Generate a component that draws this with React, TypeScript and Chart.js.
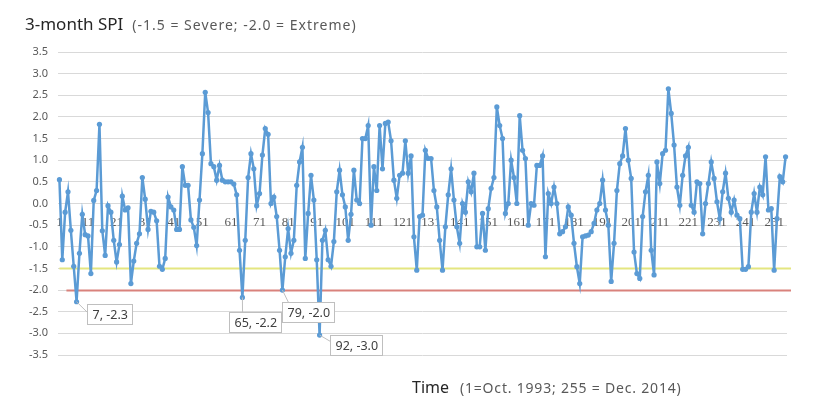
import React, { useEffect, useRef } from "react";
import { Chart, registerables } from "chart.js";

Chart.register(...registerables);

// 3-month SPI, months 1..255 (1 = Oct. 1993, 255 = Dec. 2014)
const spiPart1 = [
  0.55, -1.3, -0.2, 0.27, -0.62, -1.45, -2.27, -1.15, -0.25, -0.72,
  -0.75, -1.62, 0.07, 0.3, 1.83, -0.63, -1.2, -0.05, -0.2, -0.85,
  -1.35, -0.95, 0.17, -0.15, -0.1, -1.85, -1.33, -0.92, -0.7, 0.6,
  0.1, -0.6, -0.18, -0.2, -0.4, -1.45, -1.52, -1.27, 0.15, -0.08,
  -0.15, -0.6, -0.6, 0.85, 0.42, 0.42, -0.38, -0.55, -0.97, 0.08,
  1.15, 2.57, 2.1, 0.92, 0.85, 0.54, 0.88, 0.54, 0.5, 0.5,
  0.5, 0.45, 0.2, -1.08, -2.17,
];
const spiPart2 = [
  -0.85, 0.6, 1.15, 0.8, -0.05, 0.23, 1.12, 1.73, 1.6, 0.0,
  0.15, -0.3, -1.08, -2.0, -1.23, -0.58, -1.15, -0.85, 0.42, 0.96,
  1.3, -1.27, -0.23, 0.65, 0.08, -1.3, -3.04, -0.85, -0.62, -1.3,
  -1.45, -0.88, 0.27, 0.77, 0.2, -0.08, -0.85, -0.25, 0.77, 0.08,
  0.0, 1.5, 1.5, 1.8, -0.5, 0.85, 0.3, 1.8, 0.8, 1.85,
  1.88, 1.45, 0.54, 0.12, 0.65, 0.7, 1.45, 0.7, 1.1, -0.77,
  -1.54, -0.3, -0.27, 1.23, 1.04,
];
const spiPart3 = [
  1.04, 0.3, -0.08, -0.85, -1.54, -0.54, 0.2, 0.8, 0.08, -0.54,
  -0.92, 0.0, -0.2, 0.5, 0.27, 0.7, -1.0, -1.0, -0.23, -1.08,
  -0.12, 0.35, 0.6, 2.23, 1.8, 1.5, -0.23, 0.0, 1.0, 0.6,
  0.0, 2.03, 1.23, 1.04, -0.5, 0.0, -0.04, 0.88, 0.88, 1.1,
  -1.23, 0.23, 0.0, 0.38, 0.0, -0.7, -0.65, -0.54, -0.08, -0.27,
  -0.92, -1.46, -1.85, -0.77, -0.75, -0.73, -0.65, -0.46, -0.15, 0.0,
  0.54, -0.15, -0.5, -1.8, -0.92,
];
const spiPart4 = [
  0.3, 0.92, 1.1, 1.73, 1.0, 0.58, -1.12, -1.62, -1.73, -0.3,
  0.27, 0.65, -1.08, -1.65, 0.96, 0.46, 1.15, 1.23, 2.65, 2.08,
  1.35, 0.38, -0.04, 0.65, 1.1, 1.3, -0.04, -0.2, 0.5, 0.46,
  -0.7, 0.0, 0.46, 0.96, 0.58, 0.04, -0.35, 0.27, 0.7, 0.12,
  -0.2, 0.08, -0.27, -0.35, -1.52, -1.52, -1.46, -0.2, 0.23, -0.2,
  0.38, 0.2, 1.08, -0.15, -0.12, -1.54, -0.35, 0.62, 0.5, 1.08,
];
const spiValues = [...spiPart1, ...spiPart2, ...spiPart3, ...spiPart4];
const monthLabels = spiValues.map((_, i) => String(i + 1));

const yMin = -3.5;
const yMax = 3.5;
const yStep = 0.5;
const labelEvery = 10;

const severeLevel = -1.5;
const extremeLevel = -2.0;

const calloutMonths = [7, 65, 79, 92];

const titleMain = "3-month SPI";
const titleSub = "(-1.5 = Severe; -2.0 = Extreme)";
const xTitleMain = "Time";
const xTitleSub = "(1=Oct. 1993; 255 = Dec. 2014)";

// styling of callouts: offset of the box from its point, and where the leader meets the box
const calloutStyle = [
  { dx: 10, dy: 2, ax: 0, ay: 8 },
  { dx: -13, dy: 15, ax: 13, ay: 0 },
  { dx: 0, dy: 12, ax: 6, ay: 0 },
  { dx: 10, dy: 0, ax: 0, ay: 6 },
];

const decorPlugin = {
  id: "decor",
  beforeDatasetsDraw(chart: any) {
    const { ctx, chartArea, scales } = chart;
    const x = scales.x;
    const y = scales.y;
    const x0 = x.getPixelForValue(0);
    const drawLevel = (v: number, color: string, start: number) => {
      const py = Math.round(y.getPixelForValue(v)) + 0.5;
      ctx.save();
      ctx.strokeStyle = color;
      ctx.lineWidth = 2;
      ctx.beginPath();
      ctx.moveTo(start, py);
      ctx.lineTo(chartArea.right + 4, py);
      ctx.stroke();
      ctx.restore();
    };
    drawLevel(severeLevel, "#e4e680", x0);
    drawLevel(extremeLevel, "#d9827c", x0 + 7);
  },
  afterDatasetsDraw(chart: any) {
    const { ctx, scales } = chart;
    const x = scales.x;
    const y = scales.y;
    ctx.save();
    ctx.font = "12.5px 'Noto Sans'";
    ctx.textBaseline = "middle";
    calloutMonths.forEach((m, k) => {
      const v = spiValues[m - 1];
      const px = x.getPixelForValue(m - 1);
      const py = y.getPixelForValue(v);
      const st = calloutStyle[k];
      const text = `${m}, ${v.toFixed(1)}`;
      const w = Math.ceil(ctx.measureText(text).width) + 9;
      const h = 20;
      const bx = Math.round(px + st.dx) + 0.5;
      const by = Math.round(py + st.dy) + 0.5;
      ctx.strokeStyle = "#bfbfbf";
      ctx.lineWidth = 1;
      ctx.beginPath();
      ctx.moveTo(px, py);
      ctx.lineTo(bx + st.ax, by + st.ay);
      ctx.stroke();
      ctx.fillStyle = "#ffffff";
      ctx.fillRect(bx, by, w, h);
      ctx.strokeRect(bx, by, w, h);
      ctx.fillStyle = "#404040";
      ctx.fillText(text, bx + 5, by + h / 2 + 1);
    });
    ctx.restore();
  },
  afterDraw(chart: any) {
    const { ctx } = chart;
    ctx.save();
    ctx.textBaseline = "alphabetic";
    ctx.fillStyle = "#262626";
    ctx.font = "17px 'Noto Sans'";
    ctx.fillText(titleMain, 25, 30);
    const w1 = ctx.measureText(titleMain).width;
    ctx.fillStyle = "#595959";
    ctx.font = "14px 'Noto Sans'";
    (ctx as any).letterSpacing = "1px";
    ctx.fillText(titleSub, 25 + w1 + 9, 30);
    (ctx as any).letterSpacing = "0px";

    ctx.fillStyle = "#262626";
    ctx.font = "16px 'Noto Sans'";
    ctx.fillText(xTitleMain, 412, 393);
    const w2 = ctx.measureText(xTitleMain).width;
    ctx.fillStyle = "#595959";
    ctx.font = "14px 'Noto Sans'";
    (ctx as any).letterSpacing = "0.8px";
    ctx.fillText(xTitleSub, 412 + w2 + 11, 393);
    (ctx as any).letterSpacing = "0px";
    ctx.restore();
  },
};

export default function App() {
  const canvasRef = useRef<HTMLCanvasElement>(null);

  useEffect(() => {
    if (!canvasRef.current) return;
    const chart = new Chart(canvasRef.current, {
      type: "line",
      data: {
        labels: monthLabels,
        datasets: [
          {
            label: "3-month SPI",
            data: spiValues,
            borderColor: "#5b9bd5",
            backgroundColor: "#5b9bd5",
            borderWidth: 2.5,
            pointRadius: 2.6,
            pointBorderWidth: 0,
            pointBackgroundColor: "#5b9bd5",
            tension: 0,
          },
        ],
      },
      options: {
        animation: false,
        responsive: false,
        devicePixelRatio: 1,
        layout: { padding: { left: 8, right: 33, top: 52, bottom: 59 } },
        plugins: {
          legend: { display: false },
          tooltip: { enabled: false },
          title: { display: false },
        },
        scales: {
          x: {
            type: "category",
            position: { y: 0 } as any,
            offset: true,
            grid: { display: false, drawTicks: false },
            border: { display: false },
            ticks: {
              autoSkip: false,
              maxRotation: 0,
              padding: 11,
              color: "#595959",
              font: { family: "'Liberation Serif'", size: 13 },
              callback: (_v: any, i: number) => (i % labelEvery === 0 ? monthLabels[i] : ""),
            },
          },
          y: {
            min: yMin,
            max: yMax,
            afterFit: (scale: any) => {
              scale.width = 50;
            },
            grid: { color: "#d9d9d9", lineWidth: 1, drawTicks: false },
            border: { display: false },
            ticks: {
              stepSize: yStep,
              padding: 10,
              color: "#595959",
              font: { family: "'Noto Sans'", size: 11 },
              callback: (v: any) => Number(v).toFixed(1),
            },
          },
        },
      },
      plugins: [decorPlugin],
    });
    return () => chart.destroy();
  }, []);

  return (
    <div style={{ position: "fixed", left: 0, top: 0, width: 820, height: 414, background: "#fff" }}>
      <canvas ref={canvasRef} width={820} height={414} style={{ width: 820, height: 414 }} />
    </div>
  );
}
